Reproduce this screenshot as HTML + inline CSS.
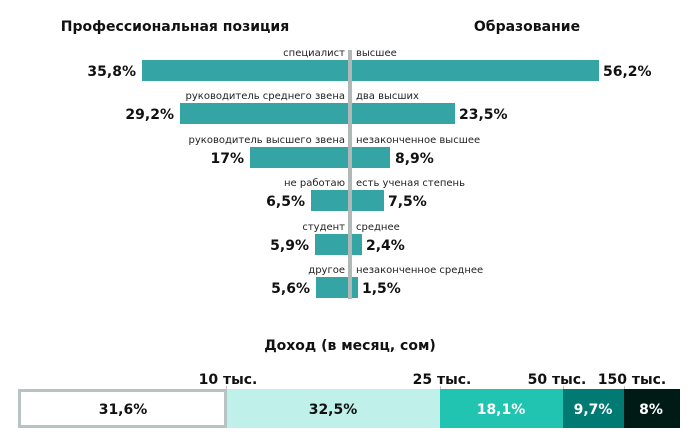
<!DOCTYPE html>
<html><head><meta charset="utf-8"><style>
body{margin:0;background:#fff;}
svg{display:block;font-family:"DejaVu Sans","Liberation Sans",sans-serif;}
.s{font-size:10px;fill:#222;}
.p{font-size:14px;font-weight:bold;fill:#111;}
.t{font-size:14px;font-weight:bold;fill:#111;}
</style></head><body>
<svg width="700" height="445" viewBox="0 0 700 445">
<text class="t" x="175" y="31" text-anchor="middle">Профессиональная позиция</text>
<text class="t" x="527" y="31" text-anchor="middle">Образование</text>
<g fill="#35a4a4">
<rect x="142" y="60" width="206" height="21"/>
<rect x="180" y="103" width="168" height="21"/>
<rect x="250" y="147" width="98" height="21"/>
<rect x="311" y="190" width="37" height="21"/>
<rect x="315" y="234" width="33" height="21"/>
<rect x="316" y="277" width="32" height="21"/>
<rect x="352" y="60" width="247" height="21"/>
<rect x="352" y="103" width="103" height="21"/>
<rect x="352" y="147" width="38" height="21"/>
<rect x="352" y="190" width="32" height="21"/>
<rect x="352" y="234" width="10" height="21"/>
<rect x="352" y="277" width="6" height="21"/>
</g>
<rect x="348" y="50" width="4" height="249" fill="#b0b8b8"/>
<g class="s">
<text x="345" y="56" text-anchor="end">специалист</text>
<text x="345" y="99" text-anchor="end">руководитель среднего звена</text>
<text x="345" y="143" text-anchor="end">руководитель высшего звена</text>
<text x="345" y="186" text-anchor="end">не работаю</text>
<text x="345" y="230" text-anchor="end">студент</text>
<text x="345" y="273" text-anchor="end">другое</text>
<text x="356" y="56">высшее</text>
<text x="356" y="99">два высших</text>
<text x="356" y="143">незаконченное высшее</text>
<text x="356" y="186">есть ученая степень</text>
<text x="356" y="230">среднее</text>
<text x="356" y="273">незаконченное среднее</text>
</g>
<g class="p">
<text x="136" y="76" text-anchor="end">35,8%</text>
<text x="174" y="119" text-anchor="end">29,2%</text>
<text x="244" y="163" text-anchor="end">17%</text>
<text x="305" y="206" text-anchor="end">6,5%</text>
<text x="309" y="250" text-anchor="end">5,9%</text>
<text x="310" y="293" text-anchor="end">5,6%</text>
<text x="603" y="76">56,2%</text>
<text x="459" y="119">23,5%</text>
<text x="395" y="163">8,9%</text>
<text x="388" y="206">7,5%</text>
<text x="366" y="250">2,4%</text>
<text x="362" y="293">1,5%</text>
</g>
<text class="t" x="350" y="350" text-anchor="middle">Доход (в месяц, сом)</text>
<g class="p">
<text x="228" y="384" text-anchor="middle">10 тыс.</text>
<text x="442" y="384" text-anchor="middle">25 тыс.</text>
<text x="557" y="384" text-anchor="middle">50 тыс.</text>
<text x="632" y="384" text-anchor="middle">150 тыс.</text>
</g>
<g fill="#b8c4c4"><rect x="226" y="386" width="1" height="4"/><rect x="440" y="386" width="1" height="4"/><rect x="563" y="386" width="1" height="4"/><rect x="624" y="386" width="1" height="4"/></g>
<rect x="227" y="389" width="213" height="39" fill="#bff0e9"/>
<rect x="440" y="389" width="123" height="39" fill="#20c4b0"/>
<rect x="563" y="389" width="61" height="39" fill="#007a72"/>
<rect x="624" y="389" width="56" height="39" fill="#001a16"/>
<rect x="19.5" y="390.5" width="206" height="36" fill="#fff" stroke="#b8c4c4" stroke-width="3"/>
<g class="p" text-anchor="middle">
<text x="123" y="414">31,6%</text>
<text x="333" y="414">32,5%</text>
<text x="501" y="414" fill="#fff">18,1%</text>
<text x="593" y="414" fill="#fff">9,7%</text>
<text x="651" y="414" fill="#fff">8%</text>
</g>
</svg>
</body></html>
